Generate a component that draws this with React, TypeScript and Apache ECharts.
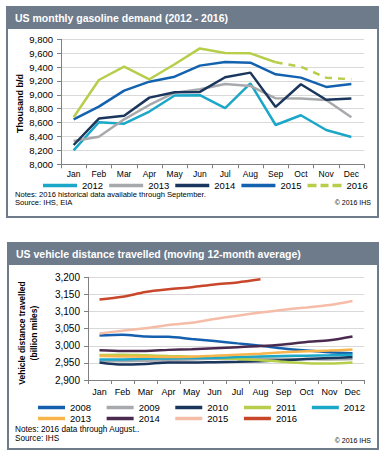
import React, { useEffect, useRef } from "react";
import * as echarts from "echarts";

const months = ["Jan", "Feb", "Mar", "Apr", "May", "Jun", "Jul", "Aug", "Sep", "Oct", "Nov", "Dec"];

// US monthly gasoline demand (thousand b/d)
const gas2012 = [8200, 8605, 8585, 8760, 8990, 8995, 8810, 9166, 8566, 8706, 8494, 8394];
const gas2013 = [8336, 8398, 8648, 8854, 9032, 9080, 9157, 9128, 8950, 8946, 8926, 8677];
const gas2014 = [8278, 8658, 8700, 8960, 9037, 9042, 9253, 9320, 8826, 9152, 8930, 8946];
const gas2015 = [8648, 8830, 9061, 9190, 9262, 9421, 9474, 9464, 9296, 9248, 9114, 9157];
const gas2016Hist = [8677, 9214, 9406, 9224, 9440, 9669, 9603, 9598, 9469, null, null, null];
const gas2016Fcst = [null, null, null, null, null, null, null, null, 9469, 9406, 9248, 9224];
const gasYears = ["2012", "2013", "2014", "2015", "2016"];
const gasColors = ["#1AA7C8", "#A7A9AC", "#1B365D", "#1262B0", "#B6CE4A"];

// US vehicle distance travelled (billion miles, moving 12-month average)
const vdt2008 = [3030, 3032, 3027, 3026, 3020, 3014, 3007, 3000, 2992, 2986, 2981, 2978];
const vdt2009 = [2957, 2955, 2956, 2958, 2960, 2962, 2963, 2963, 2962, 2961, 2960, 2961];
const vdt2010 = [2951, 2945, 2947, 2951, 2951, 2952, 2953, 2955, 2958, 2961, 2964, 2967];
const vdt2011 = [2973, 2974, 2972, 2970, 2968, 2965, 2961, 2958, 2953, 2949, 2948, 2951];
const vdt2012 = [2960, 2960, 2962, 2963, 2964, 2965, 2967, 2969, 2970, 2971, 2972, 2974];
const vdt2013 = [2970, 2969, 2968, 2967, 2968, 2971, 2974, 2977, 2981, 2984, 2986, 2989];
const vdt2014 = [2987, 2985, 2985, 2988, 2990, 2993, 2996, 2999, 3004, 3011, 3016, 3027];
const vdt2015 = [3036, 3044, 3051, 3061, 3067, 3078, 3088, 3097, 3105, 3112, 3119, 3131];
const vdt2016 = [3135, 3143, 3157, 3165, 3171, 3179, 3185, 3194, null, null, null, null];
const vdtYears = ["2008", "2009", "2010", "2011", "2012", "2013", "2014", "2015", "2016"];
const vdtColors = ["#1560AE", "#A7A9AC", "#1B365D", "#B6CE4A", "#1AA7C8", "#F8B54B", "#4B2A50", "#F5BCA8", "#C8472B"];

const FONT = "'Liberation Sans', Arial, Helvetica, sans-serif";
const HEADER = "#6E7B8B";
const AXIS = "#808080";
const GRID = "#D9D9D9";
const DASH_ICON = "path://M0,0H9V3.5H0Z M13,0H21V3.5H13Z M25,0H34V3.5H25Z";

const fmt = (v: number) => v.toLocaleString("en-US");
const stripPrefix = (n: string) => n.replace(/^[a-z]+ /, "");

export default function App() {
  const ref = useRef<HTMLDivElement>(null);
  useEffect(() => {
    if (!ref.current) return;
    const chart = echarts.init(ref.current, undefined, { renderer: "svg" });

    const gasData = [gas2012, gas2013, gas2014, gas2015];
    const vdtData = [vdt2008, vdt2009, vdt2010, vdt2011, vdt2012, vdt2013, vdt2014, vdt2015, vdt2016];

    const gasSeries: any[] = gasData.map((d, i) => ({
      name: "gas " + gasYears[i],
      type: "line",
      xAxisIndex: 0,
      yAxisIndex: 0,
      data: d,
      symbol: "none",
      lineStyle: { color: gasColors[i], width: 2.5 },
      itemStyle: { color: gasColors[i] },
      z: 2 + i,
    }));
    gasSeries.push({
      name: "gashist 2016",
      type: "line",
      xAxisIndex: 0,
      yAxisIndex: 0,
      data: gas2016Hist,
      symbol: "none",
      lineStyle: { color: gasColors[4], width: 2.5 },
      itemStyle: { color: gasColors[4] },
      z: 8,
    });
    gasSeries.push({
      name: "gas 2016",
      type: "line",
      xAxisIndex: 0,
      yAxisIndex: 0,
      data: gas2016Fcst,
      symbol: "none",
      lineStyle: { color: gasColors[4], width: 2.5, type: [7, 6] },
      itemStyle: { color: gasColors[4] },
      z: 8,
    });

    const vdtSeries = vdtData.map((d, i) => ({
      name: "vdt " + vdtYears[i],
      type: "line",
      xAxisIndex: 1,
      yAxisIndex: 1,
      data: d,
      symbol: "none",
      smooth: 0.3,
      lineStyle: { color: vdtColors[i], width: 2.5 },
      itemStyle: { color: vdtColors[i] },
      z: 2 + i,
    }));

    const axisLabelX = { color: "#000", fontSize: 8.5, fontFamily: FONT };
    const axisLabelY = { color: "#000", fontSize: 9.5, fontFamily: FONT, formatter: fmt };
    const legendText = { color: "#000", fontSize: 9.5, fontFamily: FONT };

    const smallText = (text: string, x: number, y: number, align = "left", size = 7) => ({
      type: "text",
      x,
      y,
      silent: true,
      style: {
        text,
        fill: "#000",
        fontSize: size,
        fontFamily: FONT,
        textAlign: align,
        textVerticalAlign: "middle",
      },
    });

    const gasLegendData = gasYears.map((y) =>
      y === "2016" ? { name: "gas " + y, icon: DASH_ICON } : { name: "gas " + y }
    );

    chart.setOption({
      animation: false,
      grid: [
        { left: 61, right: 21, top: 39.3, bottom: 457 - 164.3, containLabel: false },
        { left: 88, right: 21, top: 277.3, bottom: 457 - 380, containLabel: false },
      ],
      xAxis: [
        {
          type: "category",
          gridIndex: 0,
          data: months,
          boundaryGap: true,
          axisLine: { lineStyle: { color: AXIS, width: 1 } },
          axisTick: { show: true, length: 4, lineStyle: { color: AXIS } },
          axisLabel: { ...axisLabelX, margin: 5 },
          splitLine: { show: false },
        },
        {
          type: "category",
          gridIndex: 1,
          data: months,
          boundaryGap: true,
          axisLine: { lineStyle: { color: AXIS, width: 1 } },
          axisTick: { show: true, length: 4, lineStyle: { color: AXIS } },
          axisLabel: { ...axisLabelX, fontSize: 9, margin: 7 },
          splitLine: { show: false },
        },
      ],
      yAxis: [
        {
          type: "value",
          gridIndex: 0,
          min: 8000,
          max: 9800,
          interval: 200,
          axisLine: { show: true, lineStyle: { color: AXIS, width: 1 } },
          axisTick: { show: true, length: 4, lineStyle: { color: AXIS } },
          axisLabel: { ...axisLabelY, margin: 8 },
          splitLine: { show: true, lineStyle: { color: GRID, width: 1 } },
        },
        {
          type: "value",
          gridIndex: 1,
          min: 2900,
          max: 3200,
          interval: 50,
          axisLine: { show: true, lineStyle: { color: AXIS, width: 1 } },
          axisTick: { show: true, length: 4, lineStyle: { color: AXIS } },
          axisLabel: { ...axisLabelY, fontSize: 10, margin: 8 },
          splitLine: { show: true, lineStyle: { color: GRID, width: 1 } },
        },
      ],
      legend: [
        {
          data: gasLegendData,
          left: 43,
          top: 180.5,
          orient: "horizontal",
          icon: "rect",
          itemWidth: 34,
          itemHeight: 3.5,
          itemGap: 6,
          padding: 0,
          textStyle: legendText,
          formatter: stripPrefix,
          selectedMode: false,
        },
        {
          data: vdtYears.slice(0, 5).map((y) => "vdt " + y),
          left: 38,
          top: 402.5,
          orient: "horizontal",
          icon: "rect",
          itemWidth: 27,
          itemHeight: 3.5,
          itemGap: 15.5,
          padding: 0,
          textStyle: legendText,
          formatter: stripPrefix,
          selectedMode: false,
        },
        {
          data: vdtYears.slice(5).map((y) => "vdt " + y),
          left: 38,
          top: 413.5,
          orient: "horizontal",
          icon: "rect",
          itemWidth: 27,
          itemHeight: 3.5,
          itemGap: 15.5,
          padding: 0,
          textStyle: legendText,
          formatter: stripPrefix,
          selectedMode: false,
        },
      ],
      series: [...gasSeries, ...vdtSeries],
      graphic: [
        // Panel 1
        {
          type: "rect",
          shape: { x: 7, y: 7, width: 371, height: 210 },
          style: { fill: "none", stroke: HEADER, lineWidth: 2 },
          silent: true,
        },
        {
          type: "rect",
          shape: { x: 7, y: 7, width: 371, height: 22 },
          style: { fill: HEADER },
          silent: true,
        },
        {
          type: "text",
          x: 15,
          y: 17.5,
          silent: true,
          style: {
            text: "US monthly gasoline demand (2012 - 2016)",
            fill: "#fff",
            fontSize: 10.5,
            fontWeight: "bold",
            fontFamily: FONT,
            textAlign: "left",
            textVerticalAlign: "middle",
          },
        },
        {
          type: "text",
          x: 20,
          y: 103.5,
          rotation: Math.PI / 2,
          silent: true,
          style: {
            text: "Thousand b/d",
            fill: "#000",
            fontSize: 9,
            fontWeight: "bold",
            fontFamily: FONT,
            textAlign: "center",
            textVerticalAlign: "middle",
          },
        },
        smallText("Notes: 2016 historical data available through September.", 15, 194, "left", 7.6),
        smallText("Source: IHS, EIA", 15, 202, "left", 7.6),
        smallText("© 2016 IHS", 371, 202, "right", 7),
        // Panel 2
        {
          type: "rect",
          shape: { x: 8, y: 243, width: 370, height: 206 },
          style: { fill: "none", stroke: HEADER, lineWidth: 2 },
          silent: true,
        },
        {
          type: "rect",
          shape: { x: 8, y: 243, width: 370, height: 22 },
          style: { fill: HEADER },
          silent: true,
        },
        {
          type: "text",
          x: 16,
          y: 254,
          silent: true,
          style: {
            text: "US vehicle distance travelled (moving 12-month average)",
            fill: "#fff",
            fontSize: 10.5,
            fontWeight: "bold",
            fontFamily: FONT,
            textAlign: "left",
            textVerticalAlign: "middle",
          },
        },
        {
          type: "text",
          x: 28,
          y: 333,
          rotation: Math.PI / 2,
          silent: true,
          style: {
            text: "Vehicle distance travelled\n(billion miles)",
            fill: "#000",
            fontSize: 8.5,
            lineHeight: 12,
            fontWeight: "bold",
            fontFamily: FONT,
            textAlign: "center",
            textVerticalAlign: "middle",
          },
        },
        smallText("Notes: 2016 data through August..", 15, 429, "left", 8.2),
        smallText("Source: IHS", 15, 438.5, "left", 8.2),
        smallText("© 2016 IHS", 371, 440, "right", 7),
      ],
    });

    return () => chart.dispose();
  }, []);

  return (
    <div
      ref={ref}
      style={{ position: "absolute", left: 0, top: 0, width: 385, height: 457, background: "#fff" }}
    />
  );
}
